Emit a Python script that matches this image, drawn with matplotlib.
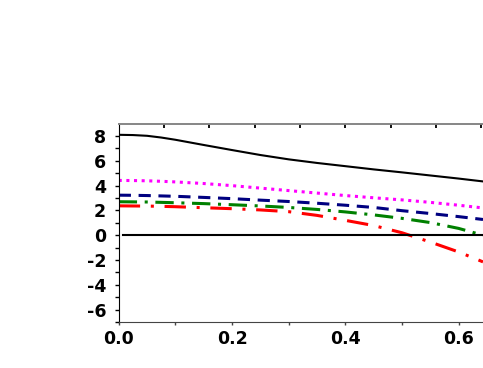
import matplotlib.pyplot as plt
import numpy as np

plt.rcParams['axes.unicode_minus'] = False

# valores
x = [0.0, 0.025, 0.05, 0.075, 0.1, 0.15, 0.2, 0.25, 0.3, 0.35, 0.4, 0.45, 0.5, 0.55, 0.6, 0.643]
y_black = [8.1, 8.08, 8.02, 7.88, 7.7, 7.28, 6.87, 6.47, 6.12, 5.83, 5.57, 5.31, 5.07, 4.82, 4.57, 4.34]
y_magenta = [4.42, 4.41, 4.39, 4.35, 4.3, 4.17, 4.0, 3.8, 3.6, 3.4, 3.2, 3.02, 2.85, 2.65, 2.42, 2.2]
y_navy = [3.23, 3.22, 3.2, 3.17, 3.14, 3.05, 2.95, 2.83, 2.72, 2.58, 2.42, 2.24, 1.98, 1.75, 1.5, 1.27]
y_green = [2.7, 2.69, 2.68, 2.65, 2.62, 2.55, 2.46, 2.36, 2.24, 2.08, 1.88, 1.64, 1.36, 1.02, 0.55, 0.0]
y_red = [2.37, 2.36, 2.35, 2.33, 2.3, 2.22, 2.14, 2.04, 1.9, 1.6, 1.2, 0.78, 0.2, -0.55, -1.35, -2.15]
x_zero = [0.007, 0.643]
y_zero = [0.0, 0.0]

fig = plt.figure(figsize=(4.83, 3.68), dpi=100)
ax = fig.add_axes([0.2458, 0.125, 0.7542, 0.539])

ax.plot(x, y_black, color='black', lw=1.5)
ax.plot(x, y_magenta, color='magenta', lw=2.2, linestyle=(0, (1, 1.5)))
ax.plot(x, y_navy, color='#000080', lw=2.2, linestyle=(0, (4, 2.5)))
ax.plot(x, y_green, color='green', lw=2.2, linestyle=(0, (6, 2.5, 1, 2.5)))
ax.plot(x, y_red, color='red', lw=2.2, linestyle=(0, (7, 3.5, 1, 3.5)))
ax.plot(x_zero, y_zero, color='black', lw=1.5)

ax.set_xlim(0, 0.643)
ax.set_ylim(-7, 9)
ax.set_xticks([0.0, 0.2, 0.4, 0.6])
ax.set_xticks([0.1, 0.3, 0.5], minor=True)
ax.set_xticklabels(['0.0', '0.2', '0.4', '0.6'])
ax.set_yticks([-6, -4, -2, 0, 2, 4, 6, 8])
ax.set_yticks([-7, -5, -3, -1, 1, 3, 5, 7], minor=True)

for lab in ax.get_xticklabels() + ax.get_yticklabels():
    lab.set_fontweight('heavy')
    lab.set_fontsize(12.5)

ax.tick_params(axis='y', which='both', direction='out', length=3, width=1, pad=6)
ax.tick_params(axis='x', which='both', direction='out', length=2.5, width=1, pad=3, color='#444444')
ax.spines['right'].set_visible(False)
ax.spines['left'].set_color('black')
ax.spines['bottom'].set_color('#444444')
ax.spines['top'].set_color('#888888')
ax.spines['top'].set_linewidth(1.3)

# eje superior con otras marcas
ax2 = ax.twiny()
ax2.set_xlim(0, 0.643)
ax2.set_xticks(np.arange(0.08, 0.65, 0.08))
ax2.set_xticklabels([])
ax2.xaxis.set_ticks_position('top')
ax2.tick_params(axis='x', which='both', direction='in', length=3, width=1.3, color='black')
for s in ['right', 'left', 'bottom']:
    ax2.spines[s].set_visible(False)
ax2.spines['top'].set_color('#888888')
ax2.spines['top'].set_linewidth(1.3)

plt.savefig('out.png', dpi=100)
